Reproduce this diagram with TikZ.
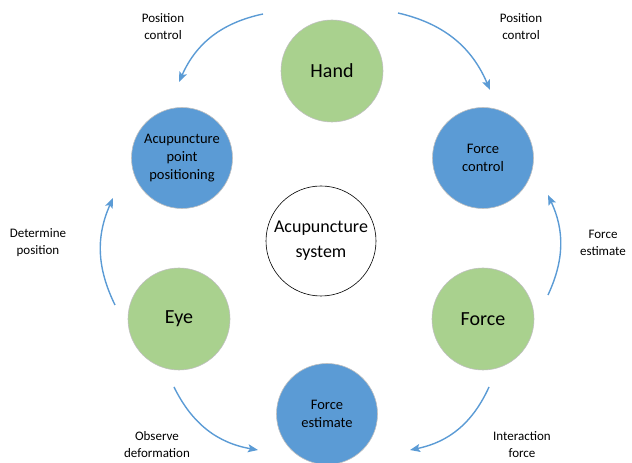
\documentclass[tikz,border=0pt]{standalone}
\usepackage{fontspec}
\setmainfont{Carlito}
\usetikzlibrary{arrows.meta}

\definecolor{zielony}{HTML}{A9D18E}
\definecolor{niebieski}{HTML}{5B9BD5}
\definecolor{obwodka}{HTML}{BFBFBF}

\begin{document}
\begin{tikzpicture}[x=1pt, y=1pt, line width=0.8pt,
  zielone/.style={circle, fill=zielony, draw=obwodka, line width=0.6pt,
    minimum size=102pt, inner sep=0pt, align=center,
    font=\fontsize{20}{24}\selectfont},
  niebieskie/.style={circle, fill=niebieski, draw=obwodka, line width=0.6pt,
    minimum size=101pt, inner sep=0pt, align=center,
    font=\fontsize{14.5}{18}\selectfont},
  srodek/.style={circle, fill=white, draw=black, line width=0.6pt,
    minimum size=110pt, inner sep=0pt, align=center,
    font=\fontsize{18}{25}\selectfont},
  etykieta/.style={align=center, font=\fontsize{13}{17}\selectfont},
  strz/.style={niebieski, line width=1.4pt, -{Stealth[length=10pt, width=8pt, inset=2pt]}}]

% Rozmiar obrazka (w pikselach oryginalu)
\useasboundingbox (0,0) rectangle (632,463);

% ---------- Wezly ----------
\node[srodek] (system) at (321,222) {Acupuncture\\system};

\node[zielone] (hand)  at (332,392) {Hand};
\node[zielone] (eye)   at (179,144) {Eye};
\node[zielone] (force) at (483,144) {Force};

\node[niebieskie] (punkt)   at (182,305) {Acupuncture\\point\\positioning};
\node[niebieskie] (sterowanie) at (483,305) {Force\\control};
\node[niebieskie] (estymacja)  at (327,49)  {Force\\estimate};

% ---------- Konce strzalek ----------
\coordinate (lg-s) at (263,449);  \coordinate (lg-k) at (179,381);
\coordinate (pg-s) at (398,450);  \coordinate (pg-k) at (490,373);
\coordinate (p-s)  at (548,168);  \coordinate (p-k)  at (548,268);
\coordinate (l-s)  at (115,158);  \coordinate (l-k)  at (113,265);
\coordinate (ld-s) at (174,76);   \coordinate (ld-k) at (258,13);
\coordinate (pd-s) at (489,76);   \coordinate (pd-k) at (410,13);

% ---------- Strzalki ----------
\draw[strz] (lg-s) to[bend right=27] (lg-k);
\draw[strz] (pg-s) to[bend left=27]  (pg-k);
\draw[strz] (p-s)  to[bend right=25] (p-k);
\draw[strz] (l-s)  to[bend left=25]  (l-k);
\draw[strz] (ld-s) to[bend right=27] (ld-k);
\draw[strz] (pd-s) to[bend left=27]  (pd-k);

% ---------- Etykiety ----------
\node[etykieta] (e-lg) at (163,436) {Position\\control};
\node[etykieta] (e-pg) at (521,436) {Position\\control};
\node[etykieta] (e-l)  at (38,220)  {Determine\\position};
\node[etykieta] (e-p)  at (603,220) {Force\\estimate};
\node[etykieta] (e-ld) at (157,18)  {Observe\\deformation};
\node[etykieta] (e-pd) at (522,18)  {Interaction\\force};

\end{tikzpicture}
\end{document}
